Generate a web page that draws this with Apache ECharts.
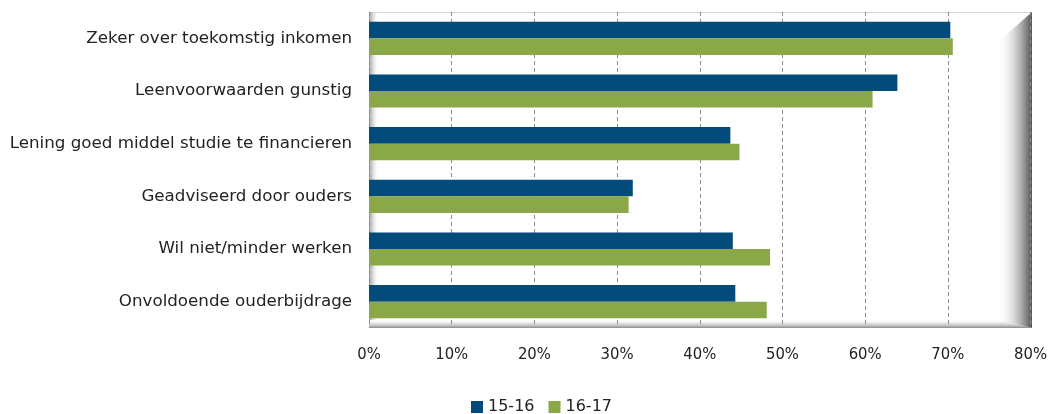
<!DOCTYPE html>
<html>
<head>
<meta charset="utf-8">
<script src="https://cdn.jsdelivr.net/npm/echarts@6/dist/echarts.min.js"></script>
<style>
html,body{margin:0;padding:0;background:#fff;}
#chart{width:1050px;height:414px;}
</style>
</head>
<body>
<div id="chart"></div>
<script>
const categories = [
  "Zeker over toekomstig inkomen",
  "Leenvoorwaarden gunstig",
  "Lening goed middel studie te financieren",
  "Geadviseerd door ouders",
  "Wil niet/minder werken",
  "Onvoldoende ouderbijdrage"
];
const seriesNames = ["15-16", "16-17"];
const values1516 = [70.3, 63.9, 43.7, 31.9, 44.0, 44.3];
const values1617 = [70.6, 60.9, 44.8, 31.4, 48.5, 48.1];
const xTicks = [0, 10, 20, 30, 40, 50, 60, 70, 80];

const G = {left: 369, top: 12, right: 18, bottom: 86};
const W = 1050, H = 414;
const gx0 = G.left, gx1 = W - G.right, gy0 = G.top, gy1 = H - G.bottom;

const chart = echarts.init(document.getElementById('chart'));
const FONT = 'DejaVu Sans';
chart.setOption({
  animation: false,
  textStyle: {fontFamily: FONT},
  grid: {left: G.left, top: G.top, right: G.right, bottom: G.bottom, containLabel: false},
  legend: {
    top: 394, left: 466,
    itemWidth: 12, itemHeight: 12, itemGap: 14,
    icon: 'rect',
    textStyle: {fontSize: 16, color: '#222', fontFamily: FONT},
    data: seriesNames
  },
  xAxis: {
    type: 'value', min: xTicks[0], max: xTicks[xTicks.length - 1], interval: 10,
    axisLine: {show: false},
    axisTick: {show: false},
    axisLabel: {formatter: v => v + '%', fontSize: 16.5, color: '#222', margin: 18,
      fontFamily: 'DejaVu Sans Condensed'},
    splitLine: {show: true, lineStyle: {color: '#8c8c8c', type: [4, 3], width: 1}}
  },
  yAxis: {
    type: 'category', data: categories, inverse: true,
    axisLine: {show: false},
    axisTick: {show: false},
    axisLabel: {fontSize: 16.7, color: '#222', margin: 17}
  },
  graphic: [
    {type: 'rect', z: -10, shape: {x: gx0, y: gy0, width: gx1 - gx0, height: 1}, style: {fill: '#d5d5d5'}},
    {type: 'rect', z: -10, shape: {x: gx0, y: gy0, width: 10, height: gy1 - gy0 - 8},
      style: {fill: new echarts.graphic.LinearGradient(0, 0, 1, 0, [{offset: 0, color: '#9a9a9a'}, {offset: 1, color: 'rgba(255,255,255,0)'}])}},
    {type: 'polygon', z: -10, shape: {points: [[gx0, gy1 - 9], [gx1 - 32, gy1 - 9], [gx1, gy1], [gx0, gy1]]},
      style: {fill: new echarts.graphic.LinearGradient(0, 0, 0, 1, [{offset: 0, color: 'rgba(255,255,255,0)'}, {offset: 1, color: '#8a8a8a'}])}},
    {type: 'polygon', z: -10, shape: {points: [[gx1 - 34, gy0 + 30], [gx1, gy0], [gx1, gy1], [gx1 - 34, gy1 - 9]]},
      style: {fill: new echarts.graphic.LinearGradient(0, 0, 1, 0, [{offset: 0, color: 'rgba(255,255,255,0)'}, {offset: 0.75, color: '#9a9a9a'}, {offset: 1, color: '#555'}])}}
  ],
  series: [
    {name: seriesNames[0], type: 'bar', data: values1516, barGap: '0%', barCategoryGap: '37%',
      itemStyle: {color: '#034B7B'}},
    {name: seriesNames[1], type: 'bar', data: values1617, barGap: '0%', barCategoryGap: '37%',
      itemStyle: {color: '#8AA847'}}
  ]
});
</script>
</body>
</html>
